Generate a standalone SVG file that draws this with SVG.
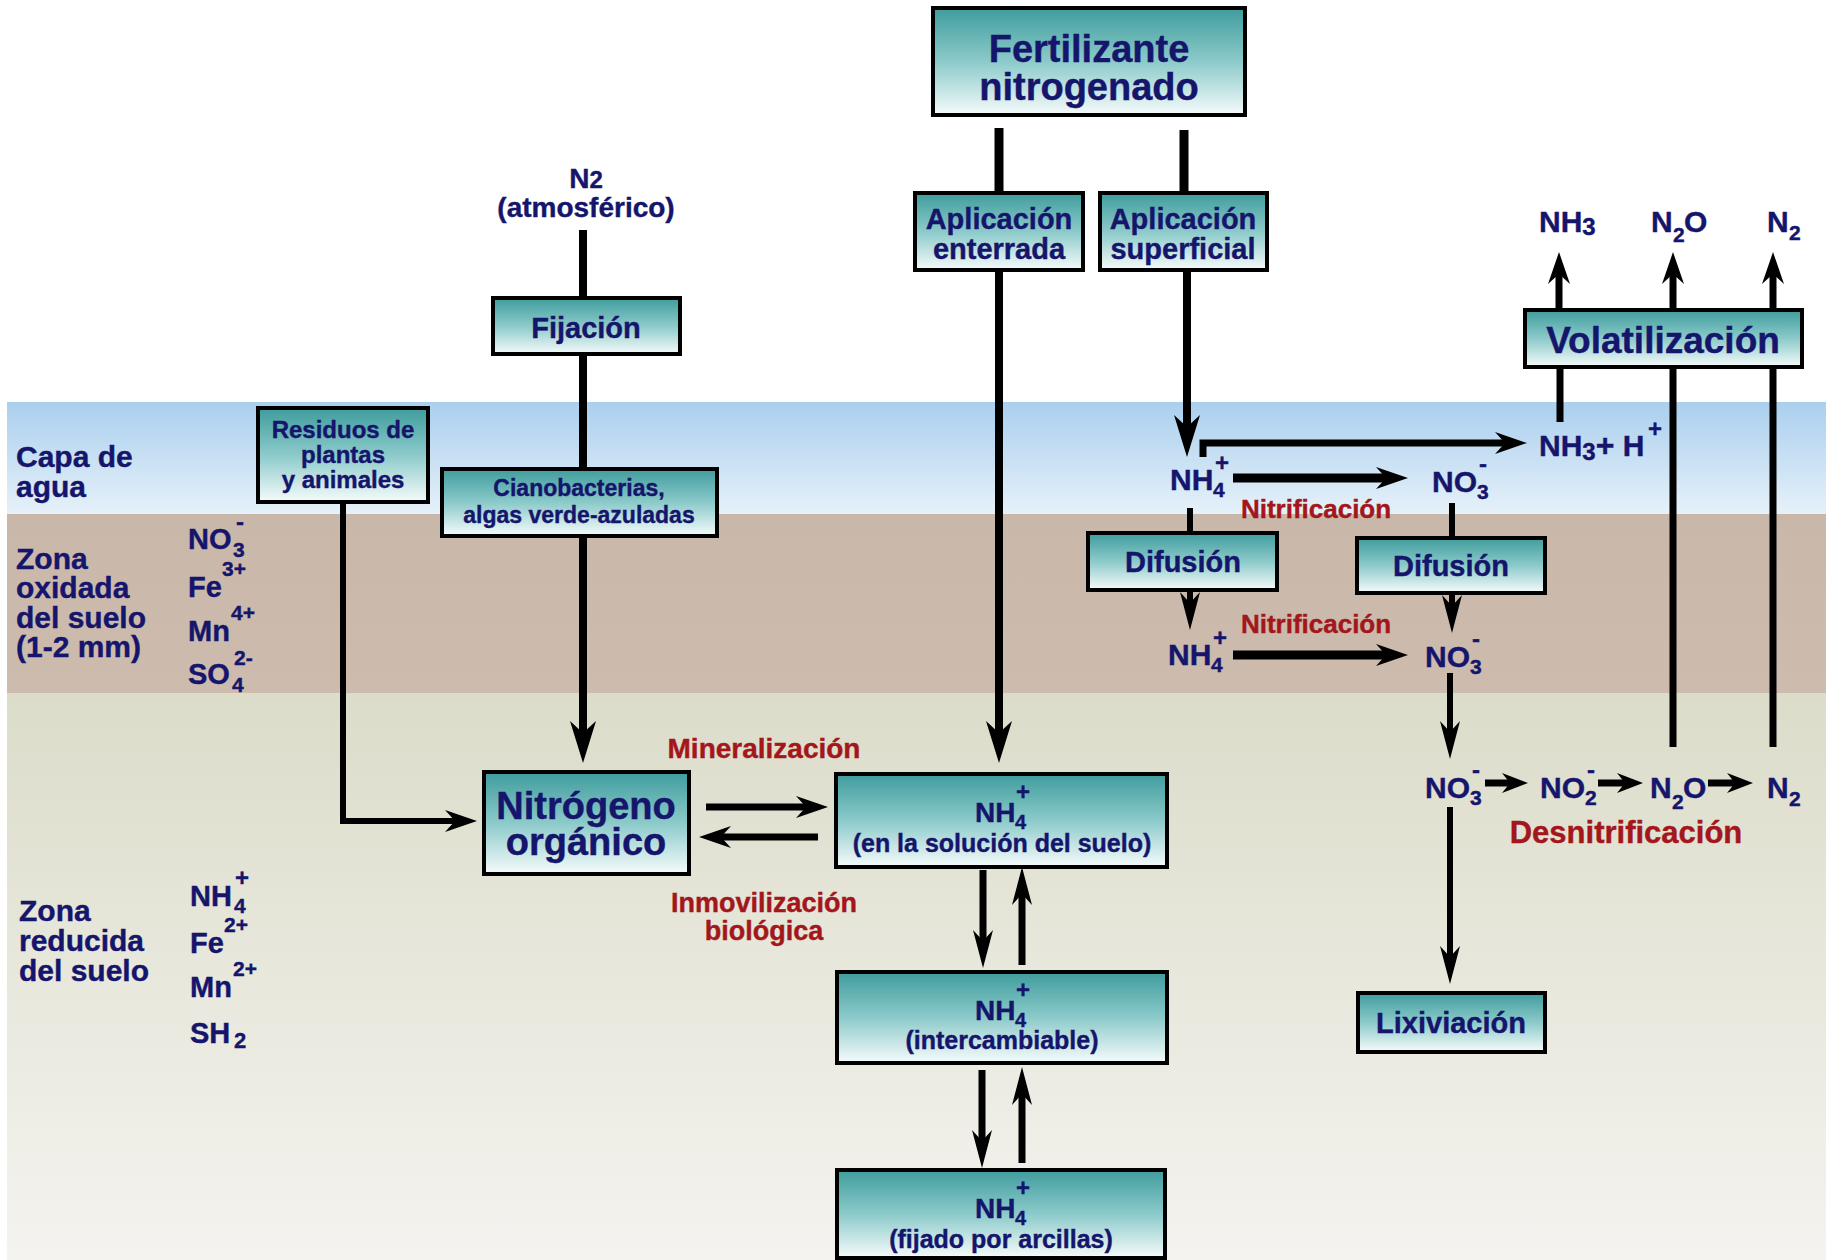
<svg xmlns="http://www.w3.org/2000/svg" width="1826" height="1260" viewBox="0 0 1826 1260">
<defs>
<linearGradient id="box" x1="0" y1="0" x2="0" y2="1">
<stop offset="0" stop-color="#3f9c9d"/>
<stop offset="0.5" stop-color="#8ccaca"/>
<stop offset="1" stop-color="#f6fbfb"/>
</linearGradient>
<linearGradient id="water" x1="0" y1="0" x2="0" y2="1">
<stop offset="0" stop-color="#aacfee"/>
<stop offset="1" stop-color="#e6f1f9"/>
</linearGradient>
<linearGradient id="oxid" x1="0" y1="0" x2="0" y2="1">
<stop offset="0" stop-color="#c9b8a9"/>
<stop offset="1" stop-color="#cdbcad"/>
</linearGradient>
<linearGradient id="red" x1="0" y1="0" x2="0" y2="1">
<stop offset="0" stop-color="#dcdcca"/>
<stop offset="1" stop-color="#f4f3ef"/>
</linearGradient>
<marker id="big" markerUnits="userSpaceOnUse" viewBox="-42 -13 42 26" markerWidth="42" markerHeight="26" refX="-28" refY="0" orient="auto">
<path d="M0,0 L-42,-13 L-30,0 L-42,13 Z" fill="#000"/>
</marker>
<marker id="tall" markerUnits="userSpaceOnUse" viewBox="-38 -10 38 20" markerWidth="38" markerHeight="20" refX="-25" refY="0" orient="auto">
<path d="M0,0 L-38,-10 L-27,0 L-38,10 Z" fill="#000"/>
</marker>
<marker id="med" markerUnits="userSpaceOnUse" viewBox="-32 -11 32 22" markerWidth="32" markerHeight="22" refX="-20" refY="0" orient="auto">
<path d="M0,0 L-32,-11 L-22,0 L-32,11 Z" fill="#000"/>
</marker>
<marker id="sm" markerUnits="userSpaceOnUse" viewBox="-26 -10 26 20" markerWidth="26" markerHeight="20" refX="-16" refY="0" orient="auto">
<path d="M0,0 L-26,-10 L-18,0 L-26,10 Z" fill="#000"/>
</marker>
</defs>
<style>
text{font-family:"Liberation Sans",Arial,sans-serif;font-weight:bold;fill:#15156c;stroke:#15156c;stroke-width:0.4}
.r{fill:#a3161b;stroke:#a3161b}
.c{text-anchor:middle}
.bx{fill:url(#box);stroke:#000;stroke-width:4}
.ln{fill:none;stroke:#000;stroke-width:8}
.l6{stroke-width:6}
.l7{stroke-width:7}
.l9{stroke-width:9}
</style>
<rect width="1826" height="1260" fill="#fff"/>
<g id="bands">
<rect x="7" y="402" width="1819" height="112" fill="url(#water)"/>
<rect x="7" y="514" width="1819" height="179" fill="url(#oxid)"/>
<rect x="7" y="693" width="1819" height="567" fill="url(#red)"/>
</g>
<g id="zone-labels" font-size="30">
<text x="16" y="467">Capa de</text>
<text x="16" y="497">agua</text>
<text x="16" y="569">Zona</text>
<text x="16" y="598">oxidada</text>
<text x="16" y="628">del suelo</text>
<text x="16" y="657">(1-2 mm)</text>
<text x="19" y="921">Zona</text>
<text x="19" y="951">reducida</text>
<text x="19" y="981">del suelo</text>
</g>
<g id="species-oxid" font-size="29">
<text x="188" y="549">NO</text><text x="233" y="557" font-size="21">3</text><text x="236" y="530" font-size="24">-</text>
<text x="188" y="597">Fe</text><text x="222" y="576" font-size="21">3+</text>
<text x="188" y="641">Mn</text><text x="231" y="620" font-size="21">4+</text>
<text x="188" y="684">SO</text><text x="232" y="692" font-size="21">4</text><text x="234" y="665" font-size="21">2-</text>
</g>
<g id="species-red" font-size="29">
<text x="190" y="906">NH</text><text x="234" y="913" font-size="21">4</text><text x="235" y="886" font-size="24">+</text>
<text x="190" y="953">Fe</text><text x="224" y="932" font-size="21">2+</text>
<text x="190" y="997">Mn</text><text x="233" y="976" font-size="21">2+</text>
<text x="190" y="1043">SH</text><text x="234" y="1048" font-size="22">2</text>
</g>
<g id="connectors">
<line class="ln l9" x1="999" y1="128" x2="999" y2="193"/>
<line class="ln l9" x1="1184" y1="130" x2="1184" y2="193"/>
<line class="ln" x1="999" y1="270" x2="999" y2="735" marker-end="url(#big)"/>
<line class="ln" x1="1187" y1="270" x2="1187" y2="429" marker-end="url(#big)"/>
<line class="ln" x1="583" y1="230" x2="583" y2="298"/>
<line class="ln" x1="583" y1="354" x2="583" y2="469"/>
<line class="ln" x1="583" y1="536" x2="583" y2="735" marker-end="url(#big)"/>
<polyline class="ln l6" points="343,502 343,821 457,821" marker-end="url(#med)"/>
<line class="ln l7" x1="706" y1="807" x2="808" y2="807" marker-end="url(#med)"/>
<line class="ln l7" x1="818" y1="837" x2="719" y2="837" marker-end="url(#med)"/>
<line class="ln l7" x1="983" y1="870" x2="983" y2="943" marker-end="url(#tall)"/>
<line class="ln l7" x1="1022" y1="965" x2="1022" y2="892" marker-end="url(#tall)"/>
<line class="ln l7" x1="982" y1="1070" x2="982" y2="1143" marker-end="url(#tall)"/>
<line class="ln l7" x1="1022" y1="1163" x2="1022" y2="1092" marker-end="url(#tall)"/>
<polyline class="ln l7" points="1203,457 1203,443 1507,443" marker-end="url(#med)"/>
<line class="ln l9" x1="1233" y1="478" x2="1388" y2="478" marker-end="url(#med)"/>
<line class="ln l6" x1="1190" y1="508" x2="1190" y2="533"/>
<line class="ln l6" x1="1190" y1="590" x2="1190" y2="605" marker-end="url(#tall)"/>
<line class="ln l9" x1="1233" y1="655" x2="1388" y2="655" marker-end="url(#med)"/>
<line class="ln l6" x1="1452" y1="503" x2="1452" y2="538"/>
<line class="ln l6" x1="1452" y1="593" x2="1452" y2="608" marker-end="url(#tall)"/>
<line class="ln l6" x1="1450" y1="673" x2="1450" y2="734" marker-end="url(#tall)"/>
<line class="ln l6" x1="1450" y1="807" x2="1450" y2="959" marker-end="url(#tall)"/>
<line class="ln l7" x1="1485" y1="783" x2="1512" y2="783" marker-end="url(#sm)"/>
<line class="ln l7" x1="1598" y1="783" x2="1627" y2="783" marker-end="url(#sm)"/>
<line class="ln l7" x1="1708" y1="783" x2="1737" y2="783" marker-end="url(#sm)"/>
<line class="ln l7" x1="1673" y1="747" x2="1673" y2="367"/>
<line class="ln l7" x1="1773" y1="747" x2="1773" y2="367"/>
<line class="ln l7" x1="1560" y1="422" x2="1560" y2="367"/>
<line class="ln l7" x1="1559" y1="310" x2="1559" y2="272" marker-end="url(#med)"/>
<line class="ln l7" x1="1673" y1="310" x2="1673" y2="272" marker-end="url(#med)"/>
<line class="ln l7" x1="1773" y1="310" x2="1773" y2="272" marker-end="url(#med)"/>
</g>
<g id="fertilizante">
<rect class="bx" x="933" y="8" width="312" height="107"/>
<text class="c" x="1089" y="62" font-size="38">Fertilizante</text>
<text class="c" x="1089" y="100" font-size="38">nitrogenado</text>
</g>
<g id="aplicacion-enterrada">
<rect class="bx" x="915" y="193" width="168" height="77"/>
<text class="c" x="999" y="229" font-size="29">Aplicación</text>
<text class="c" x="999" y="259" font-size="29">enterrada</text>
</g>
<g id="aplicacion-superficial">
<rect class="bx" x="1100" y="193" width="167" height="77"/>
<text class="c" x="1183" y="229" font-size="29">Aplicación</text>
<text class="c" x="1183" y="259" font-size="29">superficial</text>
</g>
<g id="n2-atmosferico">
<text class="c" x="586" y="188" font-size="28">N<tspan font-size="24">2</tspan></text>
<text class="c" x="586" y="217" font-size="28">(atmosférico)</text>
</g>
<g id="fijacion">
<rect class="bx" x="493" y="298" width="187" height="56"/>
<text class="c" x="586" y="338" font-size="29">Fijación</text>
</g>
<g id="residuos">
<rect class="bx" x="258" y="408" width="170" height="94"/>
<text class="c" x="343" y="438" font-size="24">Residuos de</text>
<text class="c" x="343" y="463" font-size="24">plantas</text>
<text class="c" x="343" y="488" font-size="24">y animales</text>
</g>
<g id="cianobacterias">
<rect class="bx" x="442" y="469" width="275" height="67"/>
<text class="c" x="579" y="496" font-size="23">Cianobacterias,</text>
<text class="c" x="579" y="523" font-size="23">algas verde-azuladas</text>
</g>
<g id="nitrogeno-organico">
<rect class="bx" x="484" y="772" width="205" height="102"/>
<text class="c" x="586" y="819" font-size="38">Nitrógeno</text>
<text class="c" x="586" y="855" font-size="38">orgánico</text>
</g>
<g id="nh4-solucion">
<rect class="bx" x="836" y="774" width="331" height="93"/>
<text x="975" y="822" font-size="28">NH</text><text x="1015" y="829" font-size="20">4</text><text x="1016" y="800" font-size="24">+</text>
<text class="c" x="1002" y="852" font-size="25">(en la solución del suelo)</text>
</g>
<g id="nh4-intercambiable">
<rect class="bx" x="837" y="972" width="330" height="91"/>
<text x="975" y="1020" font-size="28">NH</text><text x="1015" y="1027" font-size="20">4</text><text x="1016" y="998" font-size="24">+</text>
<text class="c" x="1002" y="1049" font-size="25">(intercambiable)</text>
</g>
<g id="nh4-fijado">
<rect class="bx" x="837" y="1170" width="328" height="88"/>
<text x="975" y="1218" font-size="28">NH</text><text x="1015" y="1225" font-size="20">4</text><text x="1016" y="1196" font-size="24">+</text>
<text class="c" x="1001" y="1248" font-size="25">(fijado por arcillas)</text>
</g>
<g id="labels-red">
<text class="c r" x="764" y="758" font-size="28">Mineralización</text>
<text class="c r" x="764" y="912" font-size="27">Inmovilización</text>
<text class="c r" x="764" y="940" font-size="27">biológica</text>
<text class="c r" x="1316" y="518" font-size="26">Nitrificación</text>
<text class="c r" x="1316" y="633" font-size="26">Nitrificación</text>
<text class="c r" x="1626" y="843" font-size="31">Desnitrificación</text>
</g>
<g id="nh4-agua" font-size="30">
<text x="1170" y="490">NH</text><text x="1213" y="497" font-size="21">4</text><text x="1215" y="471" font-size="24">+</text>
</g>
<g id="no3-agua" font-size="30">
<text x="1432" y="492">NO</text><text x="1477" y="499" font-size="21">3</text><text x="1479" y="472" font-size="24">-</text>
</g>
<g id="difusion-1">
<rect class="bx" x="1088" y="533" width="189" height="57"/>
<text class="c" x="1183" y="572" font-size="29">Difusión</text>
</g>
<g id="difusion-2">
<rect class="bx" x="1357" y="538" width="188" height="55"/>
<text class="c" x="1451" y="576" font-size="29">Difusión</text>
</g>
<g id="nh4-suelo" font-size="30">
<text x="1168" y="665">NH</text><text x="1211" y="672" font-size="21">4</text><text x="1213" y="646" font-size="24">+</text>
</g>
<g id="no3-suelo" font-size="30">
<text x="1425" y="667">NO</text><text x="1470" y="674" font-size="21">3</text><text x="1472" y="647" font-size="24">-</text>
</g>
<g id="no3-desn" font-size="30">
<text x="1425" y="798">NO</text><text x="1470" y="805" font-size="21">3</text><text x="1472" y="778" font-size="24">-</text>
</g>
<g id="no2-desn" font-size="30">
<text x="1540" y="798">NO</text><text x="1585" y="805" font-size="21">2</text><text x="1587" y="778" font-size="24">-</text>
</g>
<g id="n2o-desn" font-size="30">
<text x="1650" y="798">N</text><text x="1672" y="809" font-size="21">2</text><text x="1683" y="798">O</text>
</g>
<g id="n2-desn" font-size="30">
<text x="1767" y="798">N</text><text x="1789" y="806" font-size="21">2</text>
</g>
<g id="nh3-h">
<text x="1539" y="456" font-size="30">NH<tspan font-size="24" dy="4">3</tspan><tspan dy="-4" font-size="32">+</tspan> H</text><text x="1648" y="437" font-size="24">+</text>
</g>
<g id="volatilizacion">
<rect class="bx" x="1525" y="310" width="277" height="57"/>
<text class="c" x="1663" y="353" font-size="37">Volatilización</text>
</g>
<g id="gases" font-size="30">
<text x="1539" y="232">NH<tspan font-size="24" dy="3">3</tspan></text>
<text x="1651" y="232">N</text><text x="1673" y="242" font-size="21">2</text><text x="1684" y="232">O</text>
<text x="1767" y="232">N</text><text x="1789" y="240" font-size="21">2</text>
</g>
<g id="lixiviacion">
<rect class="bx" x="1358" y="993" width="187" height="59"/>
<text class="c" x="1451" y="1033" font-size="29">Lixiviación</text>
</g>
</svg>
